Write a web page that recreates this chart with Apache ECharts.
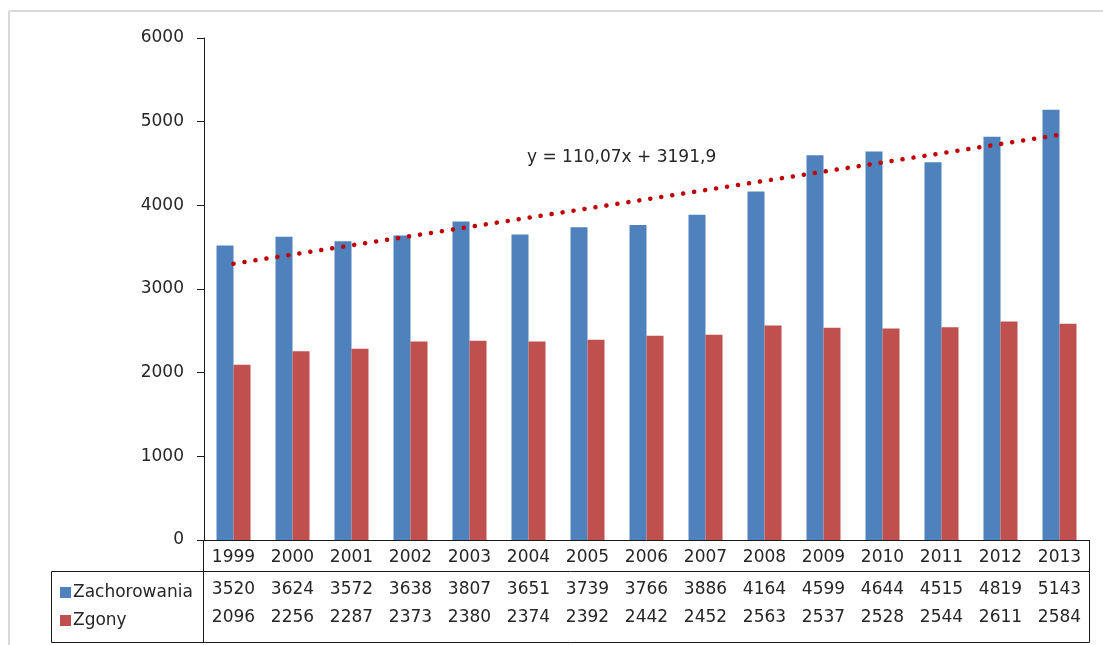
<!DOCTYPE html>
<html>
<head>
<meta charset="utf-8">
<script src="https://cdn.jsdelivr.net/npm/echarts@6/dist/echarts.min.js"></script>
<style>
  html, body { margin: 0; padding: 0; background: #ffffff; }
  #chart { width: 1103px; height: 645px; }
</style>
</head>
<body>
<div id="chart"></div>
<script>
// Years and yearly counts
const years = ['1999', '2000', '2001', '2002', '2003', '2004', '2005', '2006', '2007', '2008', '2009', '2010', '2011', '2012', '2013'];
const zachorowania = [3520, 3624, 3572, 3638, 3807, 3651, 3739, 3766, 3886, 4164, 4599, 4644, 4515, 4819, 5143];
const zgony = [2096, 2256, 2287, 2373, 2380, 2374, 2392, 2442, 2452, 2563, 2537, 2528, 2544, 2611, 2584];
const yTicks = { min: 0, max: 6000, interval: 1000 };
const trendLabel = 'y = 110,07x + 3191,9';

// Least-squares linear trend of incidence (x = 1..n)
function linearFit(values) {
  const n = values.length;
  let sx = 0, sy = 0, sxx = 0, sxy = 0;
  values.forEach((v, i) => {
    const x = i + 1;
    sx += x; sy += v; sxx += x * x; sxy += x * v;
  });
  const slope = (n * sxy - sx * sy) / (n * sxx - sx * sx);
  const intercept = (sy - slope * sx) / n;
  return values.map((_, i) => slope * (i + 1) + intercept);
}
const trend = linearFit(zachorowania);

const FONT = 'DejaVu Sans';
const TXT = '#262626';
const BLUE = '#4F81BD';
const RED = '#C0504D';

const chart = echarts.init(document.getElementById('chart'), null, { renderer: 'canvas' });

const tableRowAxis = (values, offset) => ({
  type: 'category',
  gridIndex: 0,
  position: 'bottom',
  offset: offset,
  data: values.map(String),
  axisLine: { show: false },
  axisTick: { show: false },
  axisLabel: { color: TXT, fontFamily: FONT, fontSize: 17, margin: 9, interval: 0 }
});

chart.setOption({
  animation: false,
  backgroundColor: '#ffffff',
  grid: { left: 204, right: 14, top: 38, bottom: 105, containLabel: false },
  legend: {
    orient: 'vertical',
    left: 55,
    top: 579,
    itemGap: 11,
    itemWidth: 11,
    itemHeight: 11,
    icon: 'rect',
    selectedMode: false,
    textStyle: { color: TXT, fontFamily: FONT, fontSize: 17, padding: [0, 0, 0, -3] },
    data: [
      { name: 'Zachorowania', icon: 'rect', itemStyle: { color: BLUE } },
      { name: 'Zgony', icon: 'rect', itemStyle: { color: RED } }
    ]
  },
  xAxis: [
    {
      type: 'category',
      data: years,
      axisLine: { show: true, lineStyle: { color: '#1a1a1a', width: 1 } },
      axisTick: { show: false },
      axisLabel: { color: TXT, fontFamily: FONT, fontSize: 17, margin: 9, interval: 0 }
    },
    tableRowAxis(zachorowania, 32),
    tableRowAxis(zgony, 60)
  ],
  yAxis: {
    type: 'value',
    min: yTicks.min,
    max: yTicks.max,
    interval: yTicks.interval,
    splitLine: { show: false },
    axisLine: { show: true, lineStyle: { color: '#1a1a1a', width: 1 } },
    axisTick: { show: true, length: 7, lineStyle: { color: '#1a1a1a' } },
    axisLabel: { color: TXT, fontFamily: FONT, fontSize: 17, margin: 20, formatter: (v) => String(v) }
  },
  series: [
    {
      name: 'Zachorowania',
      type: 'bar',
      data: zachorowania,
      barWidth: 17,
      barGap: '0%',
      itemStyle: { color: BLUE }
    },
    {
      name: 'Zgony',
      type: 'bar',
      data: zgony,
      barWidth: 17,
      barGap: '0%',
      itemStyle: { color: RED }
    },
    {
      name: 'Trend',
      type: 'line',
      data: trend,
      symbol: 'none',
      z: 5,
      lineStyle: { color: '#C00000', width: 4.5, type: [0.1, 11], cap: 'round' }
    }
  ],
  graphic: [
    // outer frame (top and left edges)
    { type: 'line', shape: { x1: 9, y1: 11, x2: 1103, y2: 11 }, style: { stroke: '#d9d9d9', lineWidth: 2 } },
    { type: 'line', shape: { x1: 9, y1: 11, x2: 9, y2: 645 }, style: { stroke: '#d9d9d9', lineWidth: 2 } },
    // data table borders
    { type: 'line', shape: { x1: 51.5, y1: 571.5, x2: 1089.5, y2: 571.5 }, style: { stroke: '#1a1a1a', lineWidth: 1 } },
    { type: 'line', shape: { x1: 51.5, y1: 642.5, x2: 1089.5, y2: 642.5 }, style: { stroke: '#1a1a1a', lineWidth: 1 } },
    { type: 'line', shape: { x1: 51.5, y1: 571.5, x2: 51.5, y2: 642.5 }, style: { stroke: '#1a1a1a', lineWidth: 1 } },
    { type: 'line', shape: { x1: 203.5, y1: 540, x2: 203.5, y2: 642.5 }, style: { stroke: '#1a1a1a', lineWidth: 1 } },
    { type: 'line', shape: { x1: 1089.5, y1: 540, x2: 1089.5, y2: 642.5 }, style: { stroke: '#1a1a1a', lineWidth: 1 } },
    // trend equation
    {
      type: 'text',
      left: 527,
      top: 149,
      style: { text: trendLabel, fill: TXT, font: '17px "DejaVu Sans"' }
    }
  ]
});
</script>
</body>
</html>
